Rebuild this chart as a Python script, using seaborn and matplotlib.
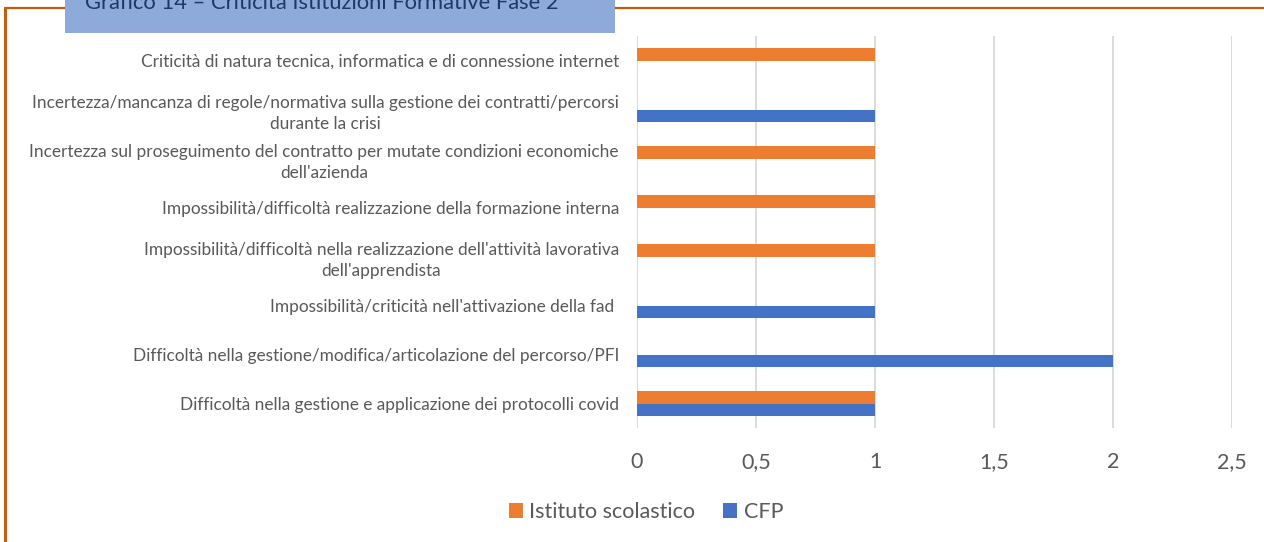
import matplotlib
matplotlib.use('Agg')

import matplotlib.pyplot as plt
import matplotlib.patches as mpatches
import matplotlib.lines as mlines
import seaborn as sns
import pandas as pd

# ---------------------------------------------------------------------------
# Data (Grafico 14)
# ---------------------------------------------------------------------------
CATEGORIES = [
    "Criticità di natura tecnica, informatica e di connessione internet",
    "Incertezza/mancanza di regole/normativa sulla gestione dei contratti/percorsi\ndurante la crisi",
    "Incertezza sul proseguimento del contratto per mutate condizioni economiche\ndell'azienda",
    "Impossibilità/difficoltà realizzazione della formazione interna",
    "Impossibilità/difficoltà nella realizzazione dell'attività lavorativa\ndell'apprendista",
    "Impossibilità/criticità nell'attivazione della fad ",
    "Difficoltà nella gestione/modifica/articolazione del percorso/PFI",
    "Difficoltà nella gestione e applicazione dei protocolli covid",
]
SERIES = ["Istituto scolastico", "CFP"]
ISTITUTO = [1, 0, 1, 1, 1, 0, 0, 1]
CFP = [0, 1, 0, 0, 0, 1, 2, 1]
X_TICKS = [0, 0.5, 1, 1.5, 2, 2.5]
X_TICK_LABELS = ["0", "0,5", "1", "1,5", "2", "2,5"]
TITLE = "Grafico 14 – Criticità Istituzioni Formative Fase 2"

# Colors (Office palette)
ORANGE = '#ED7D31'
BLUE = '#4472C4'
TEXT_GREY = '#595959'
GRID = '#D9D9D9'
FRAME = '#C55A11'
TITLE_BG = '#8EAADB'
TITLE_FG = '#1F3864'

W, H = 1264, 542

df = pd.DataFrame({
    'categoria': CATEGORIES * 2,
    'serie': [SERIES[0]] * len(CATEGORIES) + [SERIES[1]] * len(CATEGORIES),
    'valore': ISTITUTO + CFP,
})

sns.set_theme(style='white')
plt.rcParams['font.family'] = ['Lato', 'DejaVu Sans']

fig = plt.figure(figsize=(W / 100, H / 100), dpi=100)
ax = fig.add_axes([637 / W, 1 - 428 / H, (1232 - 637) / W, (428 - 36) / H])

sns.barplot(data=df, y='categoria', x='valore', hue='serie', orient='h',
            hue_order=SERIES, palette=[ORANGE, BLUE], width=0.49,
            errorbar=None, saturation=1, linewidth=0, ax=ax)

ax.set_xlim(0, 2.5)
ax.set_ylim(len(CATEGORIES) - 0.5, -0.5)
ax.set_xticks(X_TICKS)
ax.set_xticklabels(X_TICK_LABELS, fontsize=15.5, color=TEXT_GREY)
ax.tick_params(axis='x', length=0, pad=17)
ax.tick_params(axis='y', length=0, pad=13, labelsize=12.4, labelcolor=TEXT_GREY)
for lbl in ax.get_yticklabels():
    lbl.set_multialignment('center')
    lbl.set_linespacing(1.35)
ax.set_xlabel('')
ax.set_ylabel('')
for s in ax.spines.values():
    s.set_visible(False)
ax.xaxis.grid(True, color=GRID, linewidth=1.3)
ax.yaxis.grid(False)
ax.set_axisbelow(True)

# legend at the bottom
handles, labels = ax.get_legend_handles_labels()
ax.legend(handles, labels, loc='center', bbox_to_anchor=(646 / W, 1 - 512 / H),
          bbox_transform=fig.transFigure, ncol=2, frameon=False, fontsize=15.5,
          handlelength=0.65, handleheight=0.65, handletextpad=0.3,
          columnspacing=1.3, labelcolor=TEXT_GREY)

# outer orange frame (top and left edges)
fig.add_artist(mlines.Line2D([5 / W, 1], [1 - 8 / H, 1 - 8 / H],
                             transform=fig.transFigure, color=FRAME, lw=1.6))
fig.add_artist(mlines.Line2D([5 / W, 5 / W], [0, 1 - 8 / H],
                             transform=fig.transFigure, color=FRAME, lw=2.2))

# title box, cut off at the top
fig.add_artist(mpatches.Rectangle((65 / W, 1 - 33 / H), (615 - 65) / W, 33 / H,
                                  transform=fig.transFigure, facecolor=TITLE_BG,
                                  edgecolor='none', zorder=5))
fig.text(85 / W, 1 - 9 / H, TITLE, fontsize=15.8, color=TITLE_FG,
         ha='left', va='baseline', zorder=6)

fig.savefig('out.png', dpi=100)
